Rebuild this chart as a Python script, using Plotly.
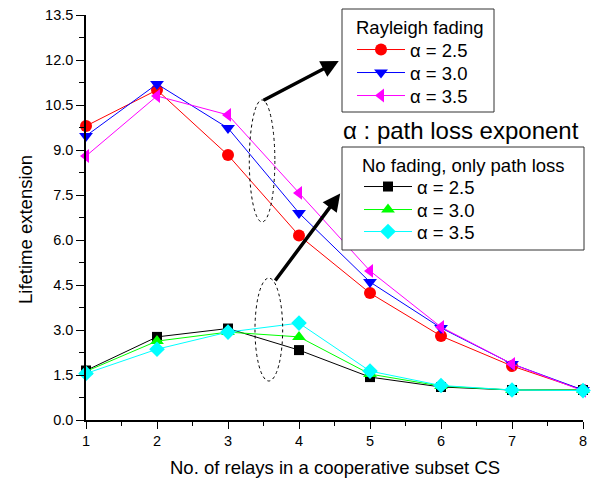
import plotly.graph_objects as go

relays = [1, 2, 3, 4, 5, 6, 7, 8]
ray_25 = [9.80, 11.00, 8.83, 6.15, 4.23, 2.80, 1.80, 1.00]
ray_30 = [9.47, 11.20, 9.73, 6.90, 4.60, 3.07, 1.87, 1.00]
ray_35 = [8.80, 10.80, 10.17, 7.57, 4.97, 3.10, 1.87, 0.97]
nof_25 = [1.65, 2.77, 3.05, 2.33, 1.43, 1.10, 1.00, 1.00]
nof_30 = [1.62, 2.63, 2.93, 2.77, 1.53, 1.13, 1.00, 1.00]
nof_35 = [1.55, 2.36, 2.93, 3.23, 1.63, 1.15, 1.00, 0.98]
labels = ["α = 2.5", "α = 3.0", "α = 3.5"]

FONT = "Liberation Sans, Arial, sans-serif"
fig = go.Figure()

# plot area in pixels: left 86, right 583, top 15, bottom 420
PL, PW, PT, PH = 86, 497, 15, 405
def px(xp):
    return (xp - PL) / PW
def py(yp):
    return (PT + PH - yp) / PH

ray = [(ray_25, "#ff0000", "circle", 12), (ray_30, "#0000ff", "triangle-down", 12),
       (ray_35, "#ff00ff", "triangle-left", 12)]
nof = [(nof_25, "#000000", "square", 10), (nof_30, "#00ff00", "triangle-up", 12),
       (nof_35, "#00ffff", "diamond", 12)]

# legend item positions (pixel): (x of legend, y center of item)
leg_pos = [(352, 50), (352, 73), (352, 96), (359, 187), (359, 210), (359, 232)]

series = ray + nof
for i, ((ys, c, sym, sz), lab) in enumerate(zip(series, labels + labels)):
    lname = "legend" if i == 0 else f"legend{i + 1}"
    fig.add_trace(go.Scatter(x=relays, y=ys, mode="lines+markers", name=lab,
                             line=dict(color=c, width=1), marker=dict(color=c, symbol=sym, size=sz),
                             legend=lname, cliponaxis=False))

legend_layout = {}
for i, (lx, ly) in enumerate(leg_pos):
    lname = "legend" if i == 0 else f"legend{i + 1}"
    legend_layout[lname] = dict(x=px(lx), y=py(ly), xanchor="left", yanchor="middle",
                                borderwidth=0, bgcolor="rgba(0,0,0,0)",
                                font=dict(size=18.5, family=FONT), itemwidth=48)

# dotted ellipses
fig.add_shape(type="circle", xref="x", yref="y", x0=3.30, x1=3.66, y0=6.6, y1=10.67,
              line=dict(color="black", width=1, dash="dot"))
fig.add_shape(type="circle", xref="x", yref="y", x0=3.38, x1=3.77, y0=1.3, y1=4.73,
              line=dict(color="black", width=1, dash="dot"))

# legend frames
fig.add_shape(type="rect", xref="paper", yref="paper", x0=px(342), x1=px(494), y0=py(112), y1=py(9),
              line=dict(color="#333333", width=1), fillcolor="white", layer="above")
fig.add_shape(type="rect", xref="paper", yref="paper", x0=px(342), x1=px(584), y0=py(250), y1=py(147),
              line=dict(color="#333333", width=1), fillcolor="white", layer="above")

# arrows
fig.add_annotation(x=4.56, y=11.97, ax=3.48, ay=10.63, xref="x", yref="y", axref="x", ayref="y",
                   showarrow=True, arrowhead=2, arrowsize=1, arrowwidth=3.5, arrowcolor="black", text="")
fig.add_annotation(x=4.58, y=7.55, ax=3.65, ay=4.6, xref="x", yref="y", axref="x", ayref="y",
                   showarrow=True, arrowhead=2, arrowsize=1, arrowwidth=3.5, arrowcolor="black", text="")

fig.add_annotation(x=px(354), y=py(27), xref="paper", yref="paper", xanchor="left", yanchor="middle",
                   text="Rayleigh fading", showarrow=False, font=dict(size=18.5, color="black", family=FONT))
fig.add_annotation(x=px(360), y=py(165), xref="paper", yref="paper", xanchor="left", yanchor="middle",
                   text="No fading, only path loss", showarrow=False,
                   font=dict(size=18.5, color="black", family=FONT))
fig.add_annotation(x=px(341), y=py(130), xref="paper", yref="paper", xanchor="left", yanchor="middle",
                   text="α : path loss exponent", showarrow=False, font=dict(size=24, color="black", family=FONT))
fig.add_annotation(x=px(334.5), y=py(467), xref="paper", yref="paper", xanchor="center", yanchor="middle",
                   text="No. of relays in a cooperative subset CS", showarrow=False,
                   font=dict(size=18.5, color="black", family=FONT))
fig.add_annotation(x=px(25), y=py(230), xref="paper", yref="paper", xanchor="center", yanchor="middle",
                   text="Lifetime extension", textangle=-90, showarrow=False,
                   font=dict(size=18.5, color="black", family=FONT))

fig.update_layout(
    width=599, height=481,
    margin=dict(l=PL, r=599 - PL - PW, t=PT, b=481 - PT - PH),
    paper_bgcolor="white", plot_bgcolor="white",
    font=dict(family=FONT, color="black", size=14.5),
    showlegend=True,
    xaxis=dict(range=[1, 8], tickvals=relays, showline=True, linecolor="black", linewidth=1.5,
               ticks="outside", ticklen=7, tickcolor="black", tickwidth=1.2, showgrid=False, zeroline=False,
               minor=dict(ticks="outside", ticklen=4, dtick=0.5, tickcolor="black", tickwidth=1.2),
               automargin=False, tickfont=dict(size=14.5)),
    yaxis=dict(range=[0, 13.5], tick0=0, dtick=1.5, tickformat=".1f", showline=True, linecolor="black",
               linewidth=1.5, ticks="outside", ticklen=8, tickcolor="black", tickwidth=1.2,
               showgrid=False, zeroline=False,
               minor=dict(ticks="outside", ticklen=5, dtick=0.75, tickcolor="black", tickwidth=1.2),
               automargin=False, tickfont=dict(size=14.5)),
    **legend_layout,
)

fig.write_html("out.html")
